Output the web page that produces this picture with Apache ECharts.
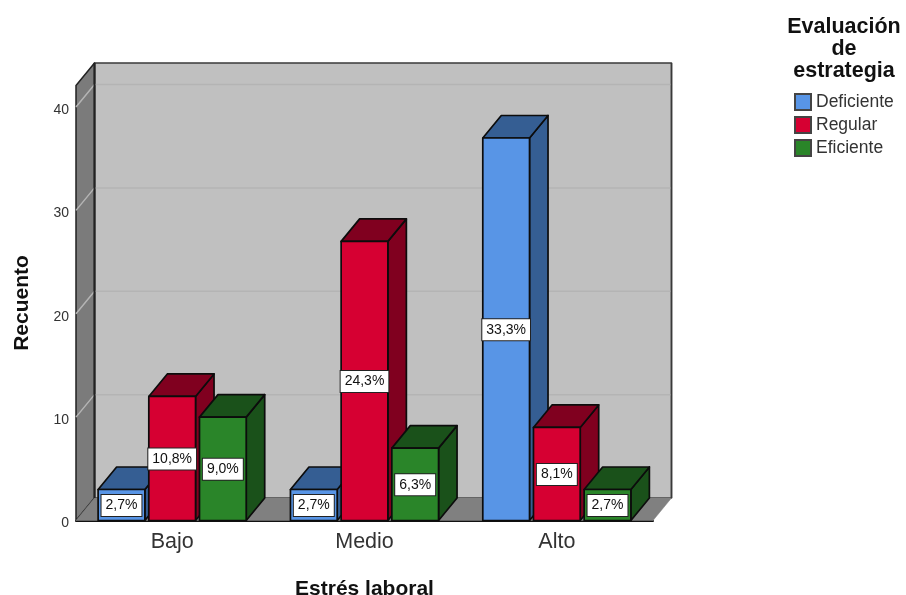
<!DOCTYPE html>
<html><head><meta charset="utf-8">
<style>html,body{margin:0;padding:0;background:#fff}#c{width:906px;height:595px}</style>
<script src="https://cdn.jsdelivr.net/npm/echarts@6/dist/echarts.min.js"></script>
</head><body><div id="c"></div>
<script>
const categories = ['Bajo', 'Medio', 'Alto'];
const yTicks = [0, 10, 20, 30, 40];
const deficiente = [3, 3, 37];
const regular = [12, 27, 9];
const eficiente = [10, 7, 3];
const pctDeficiente = ['2,7%', '2,7%', '33,3%'];
const pctRegular = ['10,8%', '24,3%', '8,1%'];
const pctEficiente = ['9,0%', '6,3%', '2,7%'];
const FONT = '"Liberation Sans", Arial, sans-serif';
const DX = 18.5, DY = -22.5, PITCH = 0.2635, WIDTH = 0.243;

const chart = echarts.init(document.getElementById('c'), null, {renderer: 'canvas'});

function wallItem(params, api) {
  const cs = params.coordSys;
  const l = cs.x, r = cs.x + cs.width, t = cs.y, b = cs.y + cs.height;
  const children = [];
  const poly = (pts, fill, stroke, lw) => children.push({type: 'polygon', shape: {points: pts},
    style: {fill: fill, stroke: stroke, lineWidth: lw, lineJoin: 'round'}});
  poly([[l + DX, t + DY], [r + DX, t + DY], [r + DX, b + DY], [l + DX, b + DY]], '#c0c0c0', '#3a3a3a', 1.5);
  poly([[l, t], [l + DX, t + DY], [l + DX, b + DY], [l, b]], '#7b7b7b', '#222', 1.5);
  poly([[l, b], [l + DX, b + DY], [r + DX, b + DY], [r, b]], '#808080', '#808080', 0.5);
  yTicks.slice(1).forEach(v => {
    const y = api.coord([0, v])[1];
    children.push({type: 'polyline', shape: {points: [[l, y], [l + DX, y + DY], [r + DX, y + DY]]},
      style: {fill: 'none', stroke: '#b4b4b4', lineWidth: 1.5}});
  });
  children.push({type: 'line', shape: {x1: l + DX, y1: t + DY, x2: l + DX, y2: b + DY},
    style: {stroke: '#222', lineWidth: 2}});
  children.push({type: 'line', shape: {x1: r + DX, y1: t + DY, x2: r + DX, y2: b + DY},
    style: {stroke: '#3a3a3a', lineWidth: 1.5}});
  return {type: 'group', children};
}

function barRender(idx, front, dark, labels) {
  return function (params, api) {
    const cat = api.value(0), val = api.value(1);
    const band = api.size([1, 0])[0];
    const c = api.coord([cat, val]), base = api.coord([cat, 0]);
    const w = band * WIDTH;
    const cx = c[0] + (idx - 1) * band * PITCH;
    const x0 = cx - w / 2, x1 = cx + w / 2, yt = c[1], yb = base[1];
    const st = (fill) => ({fill: fill, stroke: '#0c0c0c', lineWidth: 1.7, lineJoin: 'round'});
    return {type: 'group', children: [
      {type: 'polygon', shape: {points: [[x1, yt], [x1 + DX, yt + DY], [x1 + DX, yb + DY], [x1, yb]]}, style: st(dark)},
      {type: 'polygon', shape: {points: [[x0, yt], [x0 + DX, yt + DY], [x1 + DX, yt + DY], [x1, yt]]}, style: st(dark)},
      {type: 'rect', shape: {x: x0, y: yt, width: w, height: yb - yt}, style: st(front)},
      {type: 'text', z2: 10, style: {text: labels[params.dataIndex], x: cx, y: (yt + yb) / 2 + 0.5,
        align: 'center', verticalAlign: 'middle', fill: '#111', font: '14px ' + FONT,
        backgroundColor: '#fff', borderColor: '#222', borderWidth: 1, padding: [4, 4, 3, 4]}}
    ]};
  };
}

function barSeries(name, idx, values, front, dark, labels) {
  return {
    name: name, type: 'custom', z: 3 + idx, clip: false,
    data: values.map((v, i) => [i, v]),
    encode: {x: 0, y: 1},
    itemStyle: {color: front, borderColor: '#444', borderWidth: 1},
    renderItem: barRender(idx, front, dark, labels)
  };
}

chart.setOption({
  animation: false,
  backgroundColor: '#fff',
  textStyle: {fontFamily: FONT},
  title: {
    text: 'Evaluación\nde\nestrategia', left: 839, top: 11, textAlign: 'center',
    textStyle: {fontSize: 21.5, fontWeight: 'bold', color: '#111', lineHeight: 22, fontFamily: FONT}
  },
  legend: {
    orient: 'vertical', left: 789, top: 87, itemWidth: 16, itemHeight: 16, itemGap: 3,
    icon: 'rect', selectedMode: false,
    data: ['Deficiente', 'Regular', 'Eficiente'],
    textStyle: {fontSize: 17.5, lineHeight: 18, color: '#333', fontFamily: FONT, padding: [2, 0, 0, 0]}
  },
  grid: {left: 76, right: 253, top: 85.5, height: 435, outerBoundsMode: 'none'},
  xAxis: {
    type: 'category', data: categories,
    name: 'Estrés laboral', nameLocation: 'middle', nameGap: 58,
    nameTextStyle: {fontSize: 21, fontWeight: 'bold', color: '#111', fontFamily: FONT},
    axisLine: {lineStyle: {color: '#111', width: 2}},
    axisTick: {show: false},
    axisLabel: {fontSize: 21.5, color: '#333', margin: 11, fontFamily: FONT},
    splitLine: {show: false}
  },
  yAxis: {
    type: 'value', min: 0, max: 42.08,
    name: 'Recuento', nameLocation: 'middle', nameGap: 43,
    nameTextStyle: {fontSize: 21, fontWeight: 'bold', color: '#111', fontFamily: FONT},
    axisLine: {show: false},
    axisTick: {show: false},
    axisLabel: {fontSize: 14, color: '#333', margin: 7, customValues: yTicks, fontFamily: FONT, verticalAlign: 'top', lineHeight: 6},
    splitLine: {show: false}
  },
  series: [
    {type: 'custom', z: 1, silent: true, data: [[0, 0]], encode: {x: 0, y: 1}, renderItem: wallItem, clip: false},
    barSeries('Deficiente', 0, deficiente, '#5895e6', '#355e93', pctDeficiente),
    barSeries('Regular', 1, regular, '#d60032', '#80001f', pctRegular),
    barSeries('Eficiente', 2, eficiente, '#2a8529', '#1a511a', pctEficiente)
  ]
});
</script></body></html>
